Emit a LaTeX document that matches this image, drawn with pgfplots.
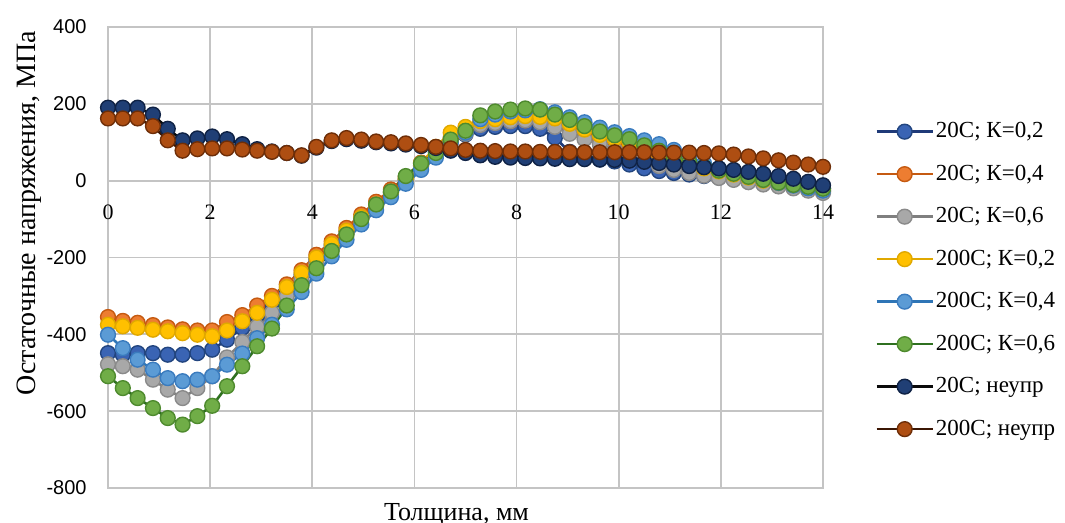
\documentclass[border=0pt]{standalone}
\usepackage{fontspec}
\setmainfont{Liberation Serif}
\newfontfamily\sansf{Liberation Sans}
\usepackage{pgfplots}
\usepackage{pgfplotstable}
\pgfplotsset{compat=1.18}

\definecolor{gridgray}{HTML}{C4C4C4}
\definecolor{c1f}{HTML}{3A64B4}\definecolor{c1e}{HTML}{22457F}\definecolor{c1l}{HTML}{1F3A78}
\definecolor{c2f}{HTML}{ED7D31}\definecolor{c2e}{HTML}{C55A11}\definecolor{c2l}{HTML}{C55A11}
\definecolor{c3f}{HTML}{A8A8A8}\definecolor{c3e}{HTML}{8A8A8A}\definecolor{c3l}{HTML}{7F7F7F}
\definecolor{c4f}{HTML}{FFC000}\definecolor{c4e}{HTML}{E0A800}\definecolor{c4l}{HTML}{E0A800}
\definecolor{c5f}{HTML}{5B9BD5}\definecolor{c5e}{HTML}{3A7BBE}\definecolor{c5l}{HTML}{2E75B6}
\definecolor{c6f}{HTML}{70AD47}\definecolor{c6e}{HTML}{4E8A2E}\definecolor{c6l}{HTML}{2F7020}
\definecolor{c7f}{HTML}{203F75}\definecolor{c7e}{HTML}{0F2245}\definecolor{c7l}{HTML}{0A0A0A}
\definecolor{c8f}{HTML}{AE4E12}\definecolor{c8e}{HTML}{6E2E08}\definecolor{c8l}{HTML}{3B1604}

\pgfplotstableread{
x s1 s2 s3 s4 s5 s6 s7 s8
0.00 -449 -355 -478 -375 -401 -509 190 162
0.29 -453 -365 -483 -379 -436 -540 190 162
0.58 -449 -370 -492 -383 -466 -566 190 162
0.88 -449 -376 -518 -388 -492 -592 172 142
1.17 -453 -382 -544 -392 -514 -618 135 105
1.46 -453 -387 -566 -397 -522 -635 105 78
1.75 -449 -390 -540 -401 -518 -613 110 82
2.04 -440 -390 -509 -405 -509 -586 115 84
2.33 -414 -368 -460 -390 -479 -535 108 84
2.63 -383 -350 -420 -366 -450 -483 95 81
2.92 -350 -325 -380 -344 -410 -431 82 78
3.21 -318 -300 -344 -310 -375 -385 76 75
3.50 -285 -270 -300 -277 -335 -325 72 72
3.79 -245 -233 -258 -240 -290 -272 65 66
4.08 -205 -193 -215 -200 -242 -228 86 88
4.38 -168 -158 -175 -165 -197 -183 103 105
4.67 -132 -123 -138 -130 -154 -140 108 111
4.96 -97 -88 -100 -95 -114 -100 104 107
5.25 -63 -55 -65 -62 -77 -62 100 102
5.54 -30 -23 -32 -30 -43 -28 97 100
5.83 3 10 2 5 -8 12 94 97
6.13 40 47 38 45 28 45 90 93
6.42 75 83 75 88 60 72 85 88
6.71 103 112 100 125 98 107 78 84
7.00 120 130 122 140 125 130 72 80
7.29 135 148 145 155 160 170 66 78
7.58 140 152 150 160 172 180 62 77
7.88 142 155 155 165 180 185 60 76
8.17 142 157 157 168 183 188 59 76
8.46 135 155 152 166 186 185 58 75
8.75 112 155 140 162 178 172 57 75
9.04 75 142 122 148 165 158 56 74
9.33 60 126 108 133 152 142 56 74
9.63 55 112 95 119 138 128 55 74
9.92 50 102 80 109 126 118 54 74
10.21 42 92 65 99 116 108 52 74
10.50 32 78 50 84 105 92 49 74
10.79 25 64 38 70 95 78 46 73
11.08 20 48 28 54 80 62 42 73
11.38 16 36 20 42 62 48 38 73
11.67 12 26 13 32 45 36 35 72
11.96 8 18 7 24 32 26 32 71
12.25 4 10 2 16 22 18 28 68
12.54 0 2 -4 8 12 10 23 63
12.83 -4 -5 -10 0 3 2 18 58
13.13 -8 -11 -15 -6 -6 -5 12 53
13.42 -12 -17 -20 -12 -13 -11 5 47
13.71 -16 -22 -26 -18 -20 -16 -3 42
14.00 -20 -28 -32 -24 -26 -21 -12 36
}\data

\begin{document}
\begin{tikzpicture}
\useasboundingbox (0,0) rectangle (532.5pt,261.5pt);
\begin{axis}[
  at={(54pt,17.5pt)}, anchor=south west,
  scale only axis, width=357.5pt, height=230.5pt,
  xmin=0, xmax=14, ymin=-800, ymax=400,
  xtick={0,2,4,6,8,10,12,14},
  xticklabels={0,2,4,6,8,10,12,14},
  ytick={-800,-600,-400,-200,0,200,400},
  yticklabels={-800,-600,-400,-200,0,200,400},
  grid=major,
  major grid style={draw=gridgray, line width=0.9pt},
  axis line style={draw=gridgray, line width=0.9pt},
  major tick length=0pt,
  xticklabel style={font=\fontsize{11}{13}\selectfont, inner sep=0pt, anchor=north, yshift=141.7pt},
  yticklabel style={font=\sansf\fontsize{10}{12}\selectfont, inner sep=0pt, anchor=east, xshift=-10.5pt},
  xlabel={Толщина, мм},
  ylabel={Остаточные напряжения, МПа},
  xlabel style={font=\fontsize{13}{15}\selectfont, at={(axis description cs:0.5,0)}, anchor=north, inner sep=0pt, yshift=-7.5pt, xshift=-4.5pt},
  ylabel style={font=\fontsize{14}{16}\selectfont, at={(axis description cs:-0.1105,0.5965)}, anchor=center, inner sep=0pt},
  clip=false,
  legend cell align=left,
  legend style={at={(1.0727,0.798)}, anchor=north west, draw=none, fill=none,
    font=\fontsize{11.5}{13}\selectfont, row sep=10.1pt, inner sep=0pt,
    nodes={inner sep=1pt}},
  legend image code/.code={\draw[mark repeat=2,mark phase=2] plot coordinates {(0pt,0pt) (14pt,0pt) (28pt,0pt)};},
  every axis plot/.append style={line width=1.3pt, mark=*, mark size=3.7pt},
]
\addplot[color=c1l, mark options={fill=c1f, draw=c1e, line width=0.7pt}] table[x=x,y=s1]{\data};
\addlegendentry{20C; К=0,2}
\addplot[color=c2l, mark options={fill=c2f, draw=c2e, line width=0.7pt}] table[x=x,y=s2]{\data};
\addlegendentry{20C; К=0,4}
\addplot[color=c3l, mark options={fill=c3f, draw=c3e, line width=0.7pt}] table[x=x,y=s3]{\data};
\addlegendentry{20C; К=0,6}
\addplot[color=c4l, mark options={fill=c4f, draw=c4e, line width=0.7pt}] table[x=x,y=s4]{\data};
\addlegendentry{200C; К=0,2}
\addplot[color=c5l, mark options={fill=c5f, draw=c5e, line width=0.7pt}] table[x=x,y=s5]{\data};
\addlegendentry{200C; К=0,4}
\addplot[color=c6l, mark options={fill=c6f, draw=c6e, line width=0.7pt}] table[x=x,y=s6]{\data};
\addlegendentry{200C; К=0,6}
\addplot[color=c7l, mark options={fill=c7f, draw=c7e, line width=0.7pt}] table[x=x,y=s7]{\data};
\addlegendentry{20C; неупр}
\addplot[color=c8l, mark options={fill=c8f, draw=c8e, line width=0.7pt}] table[x=x,y=s8]{\data};
\addlegendentry{200C; неупр}
\end{axis}
\end{tikzpicture}
\end{document}
